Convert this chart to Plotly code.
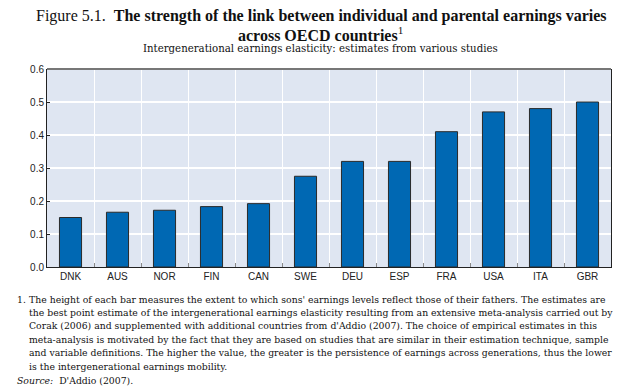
import plotly.graph_objects as go

countries = ["DNK", "AUS", "NOR", "FIN", "CAN", "SWE", "DEU", "ESP", "FRA", "USA", "ITA", "GBR"]
elasticity = [0.15, 0.166, 0.172, 0.183, 0.192, 0.275, 0.32, 0.32, 0.41, 0.47, 0.48, 0.50]
y_ticks = [0.0, 0.1, 0.2, 0.3, 0.4, 0.5, 0.6]

title_line1 = "Figure 5.1.  <b>The strength of the link between individual and parental earnings varies</b>"
title_line2 = "<b>across OECD countries</b><sup>1</sup>"
subtitle = "Intergenerational earnings elasticity: estimates from various studies"
note_lines = [
    "The height of each bar measures the extent to which sons' earnings levels reflect those of their fathers. The estimates are",
    "the best point estimate of the intergenerational earnings elasticity resulting from an extensive meta-analysis carried out by",
    "Corak (2006) and supplemented with additional countries from d'Addio (2007). The choice of empirical estimates in this",
    "meta-analysis is motivated by the fact that they are based on studies that are similar in their estimation technique, sample",
    "and variable definitions. The higher the value, the greater is the persistence of earnings across generations, thus the lower",
    "is the intergenerational earnings mobility.",
]
source_text = "<i>Source:</i>  D'Addio (2007)."

W, H = 640, 388
L, R, T, B = 47, 29, 69, 121
PW = W - L - R
PH = H - T - B

def px(x):
    return (x - L) / PW

def py(y):
    return (H - B - y) / PH

serif_t = "Liberation Serif, Times New Roman, serif"
serif = "DejaVu Serif, serif"
sans = "Liberation Sans Narrow, Arial Narrow, Liberation Sans, Arial, sans-serif"

fig = go.Figure()
fig.add_trace(go.Bar(
    x=countries, y=elasticity, width=0.47,
    marker=dict(color="#0068b3", line=dict(color="#2a2a2a", width=1)),
))

annotations = [
    dict(text=title_line1, x=px(321), y=py(16), xref="paper", yref="paper",
         xanchor="center", yanchor="middle", showarrow=False,
         font=dict(family=serif_t, size=16, color="#111")),
    dict(text=title_line2, x=px(320), y=py(33.5), xref="paper", yref="paper",
         xanchor="center", yanchor="middle", showarrow=False,
         font=dict(family=serif_t, size=16, color="#111")),
    dict(text=subtitle, x=px(320), y=py(48), xref="paper", yref="paper",
         xanchor="center", yanchor="middle", showarrow=False,
         font=dict(family=serif, size=10.2, color="#111")),
    dict(text="1.", x=px(15), y=py(299), xref="paper", yref="paper",
         xanchor="left", yanchor="middle", showarrow=False,
         font=dict(family=serif, size=9.3, color="#111")),
]
for i, line in enumerate(note_lines):
    annotations.append(dict(text=line, x=px(27), y=py(299 + i * 13.45), xref="paper", yref="paper",
                            xanchor="left", yanchor="middle", showarrow=False,
                            font=dict(family=serif, size=9.3, color="#111")))
annotations.append(dict(text=source_text, x=px(15), y=py(380), xref="paper", yref="paper",
                        xanchor="left", yanchor="middle", showarrow=False,
                        font=dict(family=serif, size=9.3, color="#111")))

fig.update_layout(
    width=W, height=H,
    margin=dict(l=L, r=R, t=T, b=B),
    paper_bgcolor="white",
    plot_bgcolor="#dfe6f2",
    showlegend=False,
    bargap=0.53,
    annotations=annotations,
    shapes=[dict(type="line", xref="paper", yref="paper", x0=0, x1=1, y0=1, y1=1,
                 line=dict(color="#777777", width=2))],
)
fig.update_xaxes(
    type="category", tickson="boundaries",
    showgrid=True, gridcolor="white", gridwidth=1,
    showline=True, linecolor="#222", linewidth=1,
    ticks="inside", ticklen=4, tickcolor="#888",
    tickfont=dict(family=sans, size=10, color="#222"),
)
fig.update_yaxes(
    range=[0, 0.6], tickvals=y_ticks, tickformat=".1f",
    showgrid=True, gridcolor="white", gridwidth=1.5,
    showline=True, linecolor="#222", linewidth=1, mirror=True,
    ticks="inside", ticklen=3, tickcolor="#222",
    tickfont=dict(family=sans, size=10, color="#222"),
    zeroline=False,
)

fig.write_html("out.html", config={"displayModeBar": False},
               post_script="document.body.style.margin='0';")
